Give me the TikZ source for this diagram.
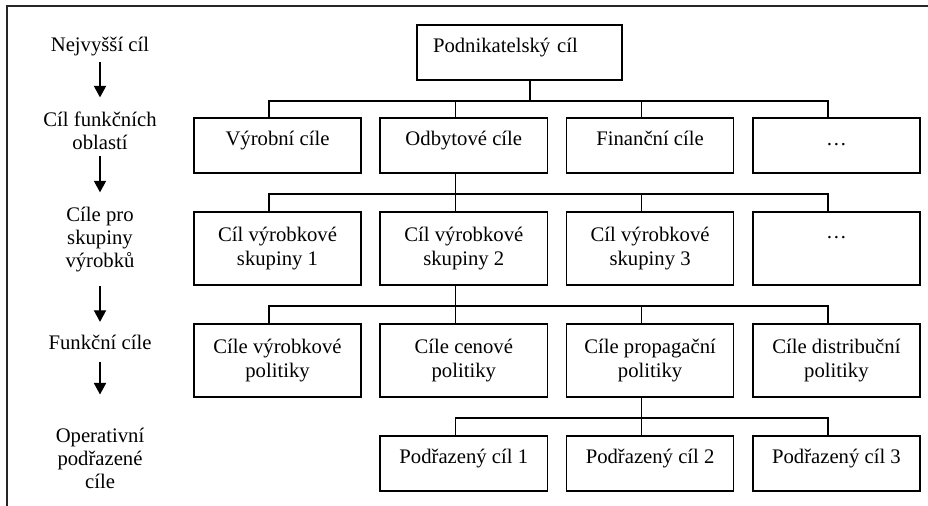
\documentclass[tikz,border=0pt]{standalone}
\usepackage{fontspec}
\setmainfont{Liberation Serif}
\usetikzlibrary{arrows.meta}

\begin{document}
\begin{tikzpicture}[x=0.58pt, y=-0.58pt, font=\fontsize{12pt}{13.4pt}\selectfont, line width=0.95pt,
  goal node/.style={draw, rectangle, minimum width=96.9pt, align=center},
  one line/.style={minimum height=31.9pt, text height=9pt, text depth=9pt},
  two lines/.style={minimum height=42.3pt},
  level node/.style={inner sep=0pt, align=center, anchor=base},
  level arrow/.style={-{Triangle[length=6.7pt, width=7.1pt]}, line width=0.7pt}]
\useasboundingbox (0,0) rectangle (928,506);
\draw [line width=1.2pt, black!85] (928,6) -| (7,506);

\node [level node] (l1) at (100,51.7) {Nejvyšší cíl};
\node [level node] (l2) at (100,150) {Cíl funkčních\\oblastí};
\node [level node] (l3) at (100,267.7) {Cíle pro\\skupiny\\výrobků};
\node [level node] (l4) at (100,350) {Funkční cíle};
\node [level node] (l5) at (100,488.3) {Operativní\\podřazené\\cíle};

\node [goal node, one line, text width=100.3pt, align=left, inner xsep=9.3pt] (0) at (519.5,52.5) {Podnikatelský cíl};

\node [goal node, one line] (11) at (277.5,145.5) {Výrobní cíle};
\node [goal node, one line] (12) at (463.8,145.5) {Odbytové cíle};
\node [goal node, one line] (13) at (650.1,145.5) {Finanční cíle};
\node [goal node, one line] (14) at (836.4,145.5) {\ldots};

\node [goal node, two lines] (21) at (277.5,248.5) {Cíl výrobkové\\skupiny 1};
\node [goal node, two lines] (22) at (463.8,248.5) {Cíl výrobkové\\skupiny 2};
\node [goal node, two lines] (23) at (650.1,248.5) {Cíl výrobkové\\skupiny 3};
\node [goal node, two lines] (24) at (836.4,248.5) {\ldots\\\mbox{}};

\node [goal node, two lines] (31) at (277.5,360.5) {Cíle výrobkové\\politiky};
\node [goal node, two lines] (32) at (463.8,360.5) {Cíle cenové\\politiky};
\node [goal node, two lines] (33) at (650.1,360.5) {Cíle propagační\\politiky};
\node [goal node, two lines] (34) at (836.4,360.5) {Cíle distribuční\\politiky};

\node [goal node, one line] (42) at (463.8,463.5) {Podřazený cíl 1};
\node [goal node, one line] (43) at (650.1,463.5) {Podřazený cíl 2};
\node [goal node, one line] (44) at (836.4,463.5) {Podřazený cíl 3};

\draw [level arrow, shorten <=3.2pt, shorten >=8.2pt] (l1) -- (l2);
\draw [level arrow, shorten <=2.9pt, shorten >=8.1pt] (l2) -- (l3);
\draw [level arrow, shorten <=7.8pt, shorten >=7.5pt] (l3) -- (l4);
\draw [level arrow, shorten <=6.2pt, shorten >=18.8pt] (l4) -- (l5);

\draw ([xshift=6.1pt]0.south) -- ++(0,20) -| ([xshift=-4.9pt]11.north);
\draw ([xshift=6.1pt]0.south) -- ++(0,20) -| ([xshift=-4.9pt]12.north);
\draw ([xshift=6.1pt]0.south) -- ++(0,20) -| ([xshift=-4.9pt]13.north);
\draw ([xshift=6.1pt]0.south) -- ++(0,20) -| ([xshift=-4.9pt]14.north);

\draw ([xshift=-4.9pt]12.south) -- ++(0,20) -| ([xshift=-4.9pt]21.north);
\draw ([xshift=-4.9pt]12.south) -- ++(0,20) -| ([xshift=-4.9pt]22.north);
\draw ([xshift=-4.9pt]12.south) -- ++(0,20) -| ([xshift=-4.9pt]23.north);
\draw ([xshift=-4.9pt]12.south) -- ++(0,20) -| ([xshift=-4.9pt]24.north);

\draw ([xshift=-4.9pt]22.south) -- ++(0,20) -| ([xshift=-4.9pt]31.north);
\draw ([xshift=-4.9pt]22.south) -- ++(0,20) -| ([xshift=-4.9pt]32.north);
\draw ([xshift=-4.9pt]22.south) -- ++(0,20) -| ([xshift=-4.9pt]33.north);
\draw ([xshift=-4.9pt]22.south) -- ++(0,20) -| ([xshift=-4.9pt]34.north);

\draw ([xshift=-4.9pt]33.south) -- ++(0,20) -| ([xshift=-4.9pt]42.north);
\draw ([xshift=-4.9pt]33.south) -- ++(0,20) -| ([xshift=-4.9pt]43.north);
\draw ([xshift=-4.9pt]33.south) -- ++(0,20) -| ([xshift=-4.9pt]44.north);
\end{tikzpicture}
\end{document}
